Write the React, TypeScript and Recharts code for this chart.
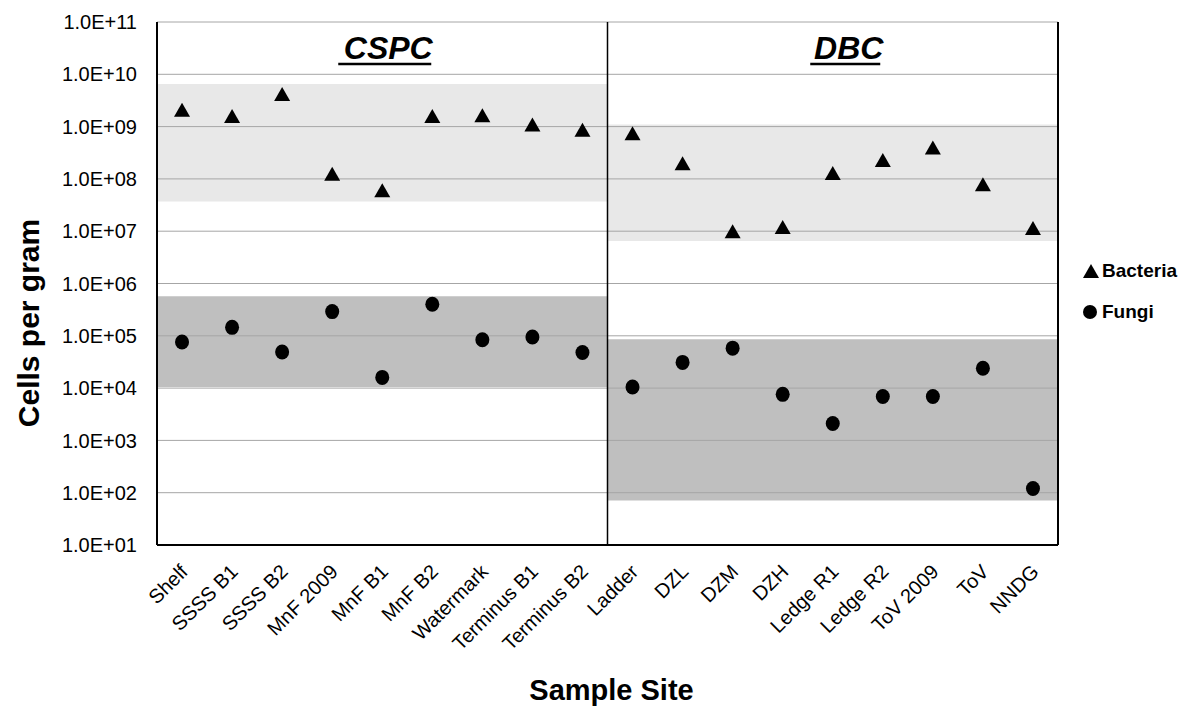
import React from "react";
import {
  ComposedChart,
  Scatter,
  XAxis,
  YAxis,
  ReferenceArea,
  ReferenceLine,
  Label,
} from "recharts";

const FONT = "'Liberation Sans', Arial, Helvetica, sans-serif";

const sites = [
  "Shelf", "SSSS B1", "SSSS B2", "MnF 2009", "MnF B1", "MnF B2", "Watermark", "Terminus B1", "Terminus B2",
  "Ladder", "DZL", "DZM", "DZH", "Ledge R1", "Ledge R2", "ToV 2009", "ToV", "NNDG",
];

const bacteria = [
  2.1e9, 1.6e9, 4.2e9, 1.25e8, 6.1e7, 1.6e9, 1.65e9, 1.1e9, 8.7e8,
  7.5e8, 2.0e8, 1.0e7, 1.2e7, 1.3e8, 2.3e8, 4.0e8, 7.9e7, 1.15e7,
];

const fungi = [
  7.6e4, 1.45e5, 4.9e4, 2.9e5, 1.6e4, 4.0e5, 8.4e4, 9.5e4, 4.8e4,
  1.05e4, 3.1e4, 5.8e4, 7.6e3, 2.1e3, 6.9e3, 6.9e3, 2.4e4, 1.2e2,
];

const yTicks = [1e1, 1e2, 1e3, 1e4, 1e5, 1e6, 1e7, 1e8, 1e9, 1e10, 1e11];

// site groups: first/last index, and the shaded ranges for each
const groups = ["CSPC", "DBC"];
const groupStart = [0, 9];
const groupEnd = [8, 17];
const bacteriaBand = [[3.7e7, 6.5e9], [6.5e6, 1.1e9]];
const fungiBand = [[1.05e4, 5.7e5], [7.1e1, 8.6e4]];

const data = sites.map((site, i) => ({ idx: i, site, bacteria: bacteria[i], fungi: fungi[i] }));

const sciLabel = (v: number) => {
  const exp = Math.round(Math.log10(v));
  return `1.0E+${String(exp).padStart(2, "0")}`;
};

function SiteTick(props: any) {
  const { x, y, payload } = props;
  return (
    <g transform={`translate(${x + 7},${y + 26})`}>
      <text textAnchor="end" transform="rotate(-45)" fontSize={20} fill="#000" fontFamily={FONT}>
        {sites[payload.value]}
      </text>
    </g>
  );
}

const Triangle = (p: any) => (
  <polygon points={`${p.cx},${p.cy - 7} ${p.cx - 8},${p.cy + 7} ${p.cx + 8},${p.cy + 7}`} fill="#000" />
);

const Dot = (p: any) => <ellipse cx={p.cx} cy={p.cy} rx={7} ry={7.5} fill="#000" />;

// underlined group heading
function GroupTitle({ viewBox, text, shift }: any) {
  const cx = viewBox.x + viewBox.width / 2 + shift;
  const w = text.length * 23;
  return (
    <g>
      <text x={cx} y={viewBox.y + 37} textAnchor="middle" fontSize={32} fontWeight="bold" fontStyle="italic" fontFamily={FONT} fill="#000">
        {text}
      </text>
      <line x1={cx - w / 2 - 4} x2={cx + w / 2 - 3} y1={viewBox.y + 42} y2={viewBox.y + 42} stroke="#000" strokeWidth={2.5} />
    </g>
  );
}

export default function App() {
  return (
    <div style={{ position: "absolute", left: 0, top: 0, width: 1183, height: 708, background: "#fff", fontFamily: FONT }}>
      <ComposedChart width={1183} height={708} data={data} margin={{ top: 22, right: 125, bottom: 0, left: 0 }}>
        <XAxis
          type="number"
          dataKey="idx"
          domain={[-0.5, 17.5]}
          ticks={data.map(d => d.idx)}
          interval={0}
          height={163}
          tick={<SiteTick />}
          tickLine={false}
          tickSize={0}
          axisLine={{ stroke: "#000", strokeWidth: 2 }}
        >
          <Label
            content={({ viewBox }: any) => (
              <text x={viewBox.x + viewBox.width / 2 + 4} y={700} textAnchor="middle" fontSize={29} fontWeight="bold" fontFamily={FONT} fill="#000">
                Sample Site
              </text>
            )}
          />
        </XAxis>
        <YAxis
          scale="log"
          domain={[10, 1e11]}
          ticks={yTicks}
          allowDataOverflow
          width={157}
          tickFormatter={sciLabel}
          tick={{ fontSize: 20, fill: "#000", fontFamily: FONT }}
          tickLine={false}
          tickSize={0}
          tickMargin={20}
          axisLine={{ stroke: "#000", strokeWidth: 2 }}
        >
          <Label
            content={() => (
              <text x={0} y={0} transform="translate(39,323) rotate(-90)" textAnchor="middle" fontSize={30} fontWeight="bold" fontFamily={FONT} fill="#000">
                Cells per gram
              </text>
            )}
          />
        </YAxis>

        {groups.map((g, i) => (
          <ReferenceArea
            key={`b-${g}`}
            x1={groupStart[i] - 0.5}
            x2={groupEnd[i] + 0.5}
            y1={bacteriaBand[i][0]}
            y2={bacteriaBand[i][1]}
            fill="#e8e8e8"
            fillOpacity={1}
            stroke="none"
          />
        ))}
        {groups.map((g, i) => (
          <ReferenceArea
            key={`f-${g}`}
            x1={groupStart[i] - 0.5}
            x2={groupEnd[i] + 0.5}
            y1={fungiBand[i][0]}
            y2={fungiBand[i][1]}
            fill="#bfbfbf"
            fillOpacity={1}
            stroke="none"
          />
        ))}
        {groups.map((g, i) => (
          <ReferenceArea
            key={`t-${g}`}
            x1={groupStart[i] - 0.5}
            x2={groupEnd[i] + 0.5}
            y1={1e10}
            y2={1e11}
            fill="none"
            stroke="none"
            label={(props: any) => <GroupTitle viewBox={props.viewBox} text={g} shift={i === 0 ? 6 : 16} />}
          />
        ))}

        {yTicks.map(t => (
          <ReferenceLine key={t} y={t} stroke="#a6a6a6" strokeWidth={1} />
        ))}
        <ReferenceLine x={groupEnd[0] + 0.5} stroke="#000" strokeWidth={1.5} />
        <ReferenceLine x={17.5} stroke="#000" strokeWidth={2} />

        <Scatter name="Bacteria" dataKey="bacteria" shape={<Triangle />} isAnimationActive={false} />
        <Scatter name="Fungi" dataKey="fungi" shape={<Dot />} isAnimationActive={false} />
      </ComposedChart>

      {/* legend */}
      <div style={{ position: "absolute", left: 1082, top: 259, fontSize: 19, fontWeight: "bold", lineHeight: "24px", color: "#000" }}>
        <div style={{ display: "flex", alignItems: "center" }}>
          <svg width={18} height={16} style={{ marginRight: 2 }}>
            <polygon points="9,1 1,15 17,15" fill="#000" />
          </svg>
          Bacteria
        </div>
        <div style={{ display: "flex", alignItems: "center", marginTop: 17 }}>
          <svg width={18} height={16} style={{ marginRight: 2 }}>
            <circle cx={8} cy={8} r={7} fill="#000" />
          </svg>
          Fungi
        </div>
      </div>
    </div>
  );
}
